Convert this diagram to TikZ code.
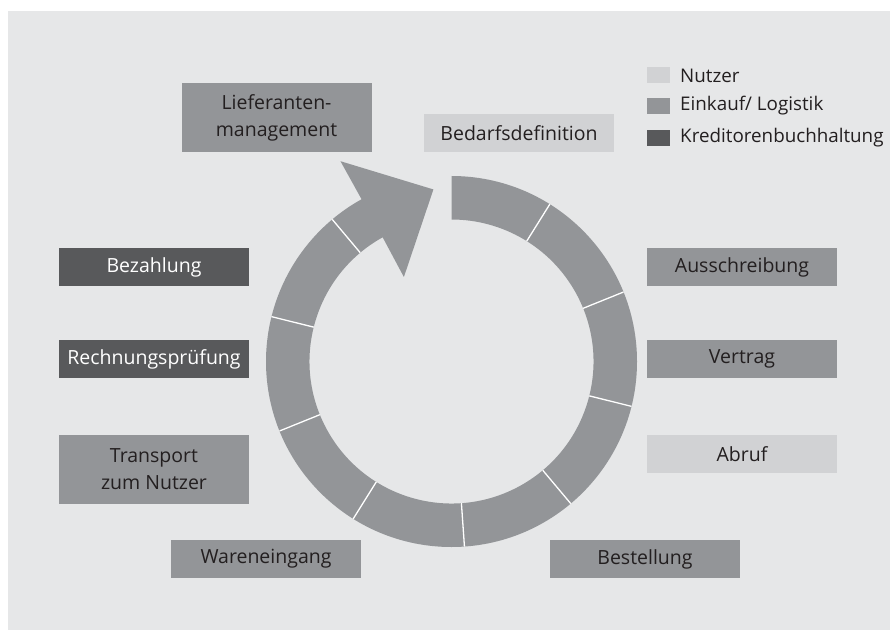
\documentclass[tikz,border=0pt]{standalone}
\usepackage{fontspec}
\setmainfont{Open Sans}
\definecolor{hintergrund}{HTML}{E6E7E8}
\definecolor{nutzer}{HTML}{D1D2D4}
\definecolor{einkauf}{HTML}{939598}
\definecolor{kredit}{HTML}{58595B}
\definecolor{schrift}{HTML}{231F20}
\begin{document}
\begin{tikzpicture}[x=1pt,y=1pt,
		schritt/.style={minimum width=190pt, inner sep=0pt, align=center,
			font=\fontsize{19.5}{27}\selectfont},
		legende/.style={anchor=west, inner sep=0pt, text=schrift,
			font=\fontsize{18.8}{26}\selectfont}]
	\useasboundingbox (0,0) rectangle (890,630);
	\fill[hintergrund] (8,0) rectangle (890,619);
	%
	% name/x/y/height/fill/text colour/label
	\def\schritte {lief/276.5/512.5/69/einkauf/schrift/{Lieferanten-\\management},
		bedarf/519/497/38/nutzer/schrift/Bedarfsdefinition,
		aus/742/363/38/einkauf/schrift/Ausschreibung,
		vertrag/742/271/38/einkauf/schrift/Vertrag,
		abruf/742/176/38/nutzer/schrift/Abruf,
		bestell/645/71/38/einkauf/schrift/Bestellung,
		waren/266/71/38/einkauf/schrift/Wareneingang,
		transport/154/161/69/einkauf/schrift/{Transport\\zum Nutzer},
		rechnung/154/271/38/kredit/white/Rechnungsprüfung,
		bezahl/154/363/38/kredit/white/Bezahlung};
	% draw the boxes of the cycle
	\foreach \name\x\y\h\col\tcol\text in \schritte{
		\node[schritt, minimum height=\h pt, fill=\col, text=\tcol] (\name) at (\x,\y) {\text};
	}
	%
	% the ring with its arrow head
	\coordinate (mitte) at (451.5,268.5);
	\def\ra{185.5}
	\def\ri{142}
	\begin{scope}[shift={(mitte)}]
		\fill[einkauf] (90:\ra) arc[start angle=90, end angle=-241, radius=\ra]
			-- (119:229) -- (96:173) -- (119.4:97) -- (-241:\ri)
			arc[start angle=-241, end angle=90, radius=\ri] -- cycle;
		% white cuts between the steps
		\foreach \a in {58,22,-14,-50,-86,-122,-158,-194,-230}{
			\draw[white, line width=1.3pt] (\a:\ri) -- (\a:\ra);
		}
	\end{scope}
	%
	% legend
	\foreach \name\y\col\text in {nutzer/554.5/nutzer/Nutzer, einkauf/524/einkauf/{Einkauf/ Logistik}, kredit/492/kredit/Kreditorenbuchhaltung}{
		\fill[\col] (647,\y-8) rectangle (670,\y+8);
		\node[legende] (leg-\name) at (680,\y) {\text};
	}
\end{tikzpicture}
\end{document}
